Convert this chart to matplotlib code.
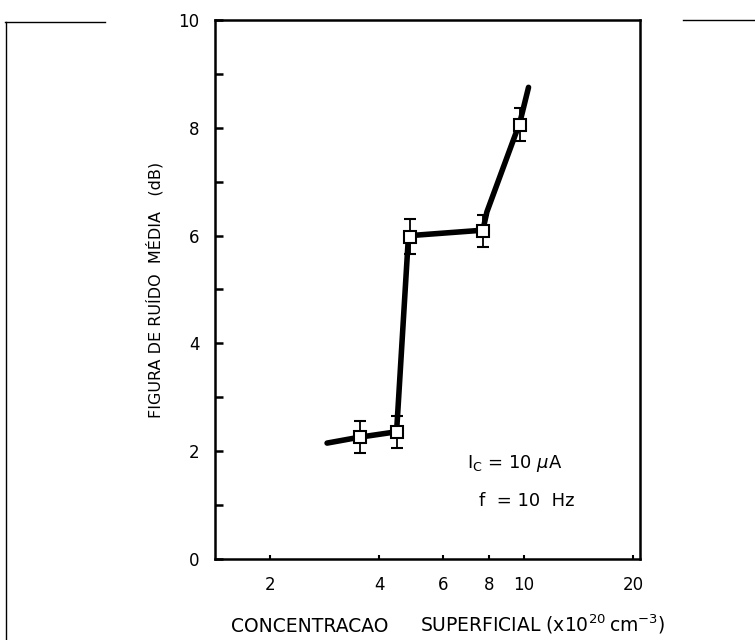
import matplotlib
matplotlib.use("Agg")
import matplotlib.pyplot as plt
from matplotlib.lines import Line2D
from matplotlib.ticker import FixedLocator, NullFormatter

plt.rcParams['font.family'] = ['DejaVu Sans']

# measured points (squares) with error bars
conc = [3.53, 4.46, 4.87, 7.71, 9.75]
noise_db = [2.26, 2.36, 5.98, 6.08, 8.06]
err_db = [0.3, 0.3, 0.32, 0.3, 0.3]

# hand-drawn trend curve
curve_x = [2.87, 3.53, 4.46, 4.80, 4.87, 7.71, 7.91, 9.75, 10.3]
curve_y = [2.15, 2.26, 2.36, 5.90, 6.00, 6.10, 6.44, 8.10, 8.75]

x_ticks = [2, 4, 6, 8, 10, 20]
x_ticklabels = ['2', '4', '6', '8', '10', '20']
y_ticks = [0, 2, 4, 6, 8, 10]

fig = plt.figure(figsize=(7.55, 6.4), dpi=100)
ax = fig.add_axes([0.2848, 0.1266, 0.5630, 0.8422])

ax.plot(curve_x, curve_y, color='black', lw=4, solid_capstyle='round', zorder=2)
ax.errorbar(conc, noise_db, yerr=err_db, fmt='s', ms=9, mfc='white', mec='black',
            mew=1.5, ecolor='black', elinewidth=1.3, capsize=4.5, capthick=1.3, zorder=3)

ax.set_xscale('log')
ax.set_xlim(1.41, 20.9)
ax.set_ylim(0, 10)

ax.xaxis.set_major_locator(FixedLocator(x_ticks))
ax.set_xticklabels(x_ticklabels)
ax.xaxis.set_minor_locator(FixedLocator([]))
ax.xaxis.set_minor_formatter(NullFormatter())
ax.set_yticks(y_ticks)
ax.set_yticks([1, 3, 5, 7, 9], minor=True)

ax.tick_params(axis='x', which='major', direction='in', length=3, width=1.5,
               pad=12, labelsize=12)
ax.tick_params(axis='y', which='both', direction='in', length=6, width=1.8,
               pad=11, labelsize=12)
for s in ax.spines.values():
    s.set_linewidth(1.8)

ax.set_ylabel('FIGURA DE RUÍDO  MÉDIA   (dB)', fontsize=11.5, labelpad=11)

# x label drawn in two pieces to keep the wide gap of the original
fig.text(231 / 755, 1 - 632 / 640, 'CONCENTRACAO',
         ha='left', va='baseline', fontsize=13.5)
fig.text(420 / 755, 1 - 632 / 640, 'SUPERFICIAL (x10$^{20}$\u2009cm$^{-3}$)',
         ha='left', va='baseline', fontsize=13.5)

ax.text(0.592, 0.178, r'I$_{\rm C}$ = 10 $\mu$A', transform=ax.transAxes,
        fontsize=13, va='center', ha='left')
ax.text(0.622, 0.108, 'f  = 10  Hz', transform=ax.transAxes,
        fontsize=13, va='center', ha='left')

# page frame fragments from the scan
fig.add_artist(Line2D([5 / 755, 105 / 755], [1 - 22 / 640, 1 - 22 / 640], color='black', lw=1))
fig.add_artist(Line2D([6 / 755, 6 / 755], [1 - 22 / 640, 0], color='black', lw=1))
fig.add_artist(Line2D([683 / 755, 1.0], [1 - 20 / 640, 1 - 20 / 640], color='black', lw=1))

fig.savefig('out.png', dpi=100)
